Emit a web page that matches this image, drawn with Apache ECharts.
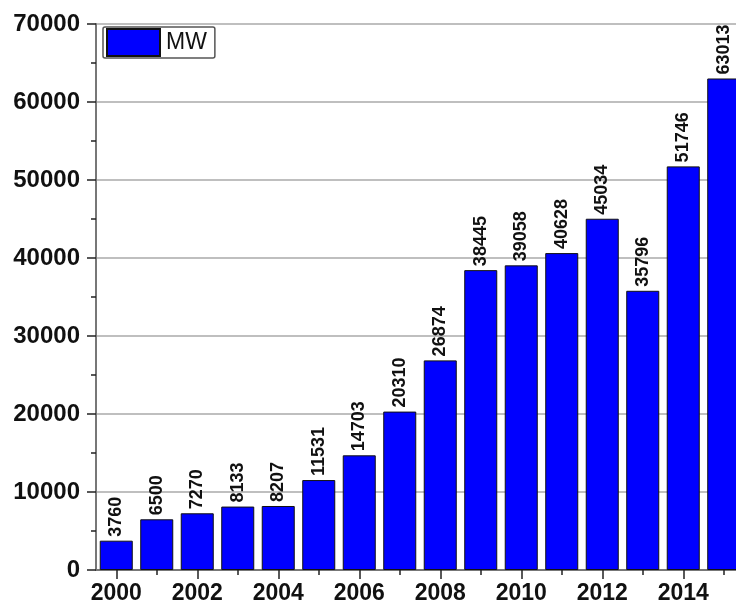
<!DOCTYPE html>
<html><head><meta charset="utf-8">
<script src="https://cdn.jsdelivr.net/npm/echarts@6/dist/echarts.min.js"></script>
<style>html,body{margin:0;padding:0;background:#fff}#c{width:736px;height:608px}</style>
</head><body><div id="c"></div>
<script>
const years = ['2000','2001','2002','2003','2004','2005','2006','2007','2008','2009','2010','2011','2012','2013','2014','2015'];
const mw = [3760,6500,7270,8133,8207,11531,14703,20310,26874,38445,39058,40628,45034,35796,51746,63013];
const seriesName = 'MW';
const FONT = 'Arial, "Liberation Sans", sans-serif';
const chart = echarts.init(document.getElementById('c'), null, {renderer:'canvas'});
chart.setOption({
  backgroundColor:'#fff',
  animation:false,
  grid:{left:96, top:24, bottom:38, width:648, containLabel:false, outerBoundsMode:'none'},
  legend:{
    show:true, left:103, top:27, orient:'horizontal',
    data:[seriesName],
    itemWidth:53, itemHeight:27, itemGap:6,
    padding:[1,8,1,3],
    borderColor:'#555', borderWidth:1.5, borderRadius:2,
    icon:'rect',
    textStyle:{fontFamily:FONT, fontSize:23, color:'#111', padding:[0,0,0,1]}
  },
  xAxis:[{
    type:'category', data:years, position:'bottom',
    axisLine:{show:true, lineStyle:{color:'#777', width:2}},
    axisTick:{show:true, alignWithLabel:true, interval:1, length:9, lineStyle:{color:'#222', width:1.5}},
    axisLabel:{interval:1, margin:12, fontFamily:FONT, fontSize:23, fontWeight:'bold', color:'#111'},
    splitLine:{show:false}
  },{
    type:'category', data:years, position:'bottom',
    axisLine:{show:false},
    axisTick:{show:true, alignWithLabel:true, interval:0, length:5, lineStyle:{color:'#222', width:1.5}},
    axisLabel:{show:false},
    splitLine:{show:false}
  }],
  yAxis:{
    type:'value', min:0, max:70000, interval:10000,
    axisLine:{show:true, lineStyle:{color:'#777', width:2}},
    axisTick:{show:true, length:9, lineStyle:{color:'#222', width:1.5}},
    minorTick:{show:true, splitNumber:2, length:5, lineStyle:{color:'#222', width:1.5}},
    axisLabel:{margin:16, fontFamily:FONT, fontSize:24, fontWeight:'bold', color:'#111', formatter:function(v){return String(v);}},
    splitLine:{show:true, lineStyle:{color:'#aaa', width:1.5}}
  },
  series:[{
    name:seriesName, type:'bar', data:mw, xAxisIndex:0,
    barCategoryGap:'18.5%',
    itemStyle:{color:'#0000ff', borderColor:'#111', borderWidth:1},
    label:{show:true, position:'top', rotate:90, align:'left', verticalAlign:'middle', distance:4,
      fontFamily:FONT, fontSize:18, fontWeight:'bold', color:'#111'}
  }]
});
</script></body></html>
